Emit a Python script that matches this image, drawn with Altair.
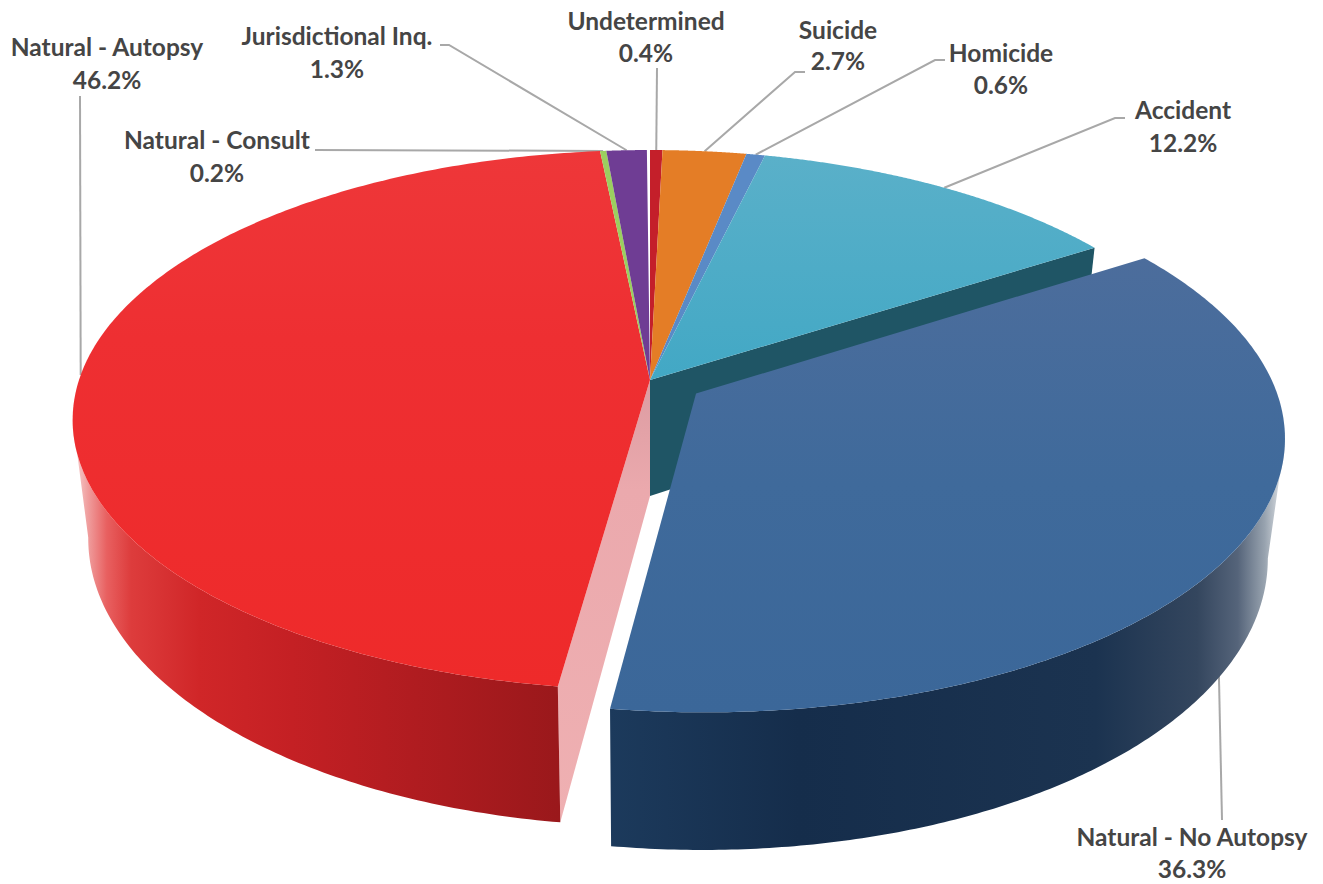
import numpy as np
import altair as alt

# Manner-of-death shares, clockwise from twelve o'clock
categories = ["Undetermined", "Suicide", "Homicide", "Accident", "Natural - No Autopsy",
              "Natural - Autopsy", "Natural - Consult", "Jurisdictional Inq."]
shares = [0.4, 2.7, 0.6, 12.2, 36.3, 46.2, 0.2, 1.3]
top_colors = ["#c41f2a", "#e47d26", "#5a8ac6", None, None, None, "#9bcf5f", "#6f3d94"]

W, H = 1323, 884

# Perspective model of the pie: unit disc mapped to screen space
CX, CY, RX, RY, PERSP, DEPTH = 650.0, 380.0, 571.0, 264.0, 0.148, 116.0
FLOOR_SHRINK = 0.027  # the underside sits further from the viewer, so it reads narrower
EXPLODED = "Natural - No Autopsy"
EXPLODE_BY = 0.095
EXPLODED_RADIUS = 1.01


def project(u, v, h=0.0):
    d = 1 + PERSP * v
    return CX + RX * u / d * (1 - FLOOR_SHRINK * h), CY + (-RY * v + DEPTH * h) / d


edges = 2 * np.pi * np.concatenate([[0], np.cumsum(shares)]) / 100
slices = {c: (edges[i], edges[i + 1]) for i, c in enumerate(categories)}


def offset(name):
    if name != EXPLODED:
        return 0.0, 0.0
    mid = sum(slices[name]) / 2
    return EXPLODE_BY * np.sin(mid), EXPLODE_BY * np.cos(mid)


def radius(name):
    return EXPLODED_RADIUS if name == EXPLODED else 1.0


def rim(name, h=0.0, n=240):
    a0, a1 = slices[name]
    ou, ov = offset(name)
    t = np.linspace(a0, a1, n)
    r = radius(name)
    xs, ys = project(ou + r * np.sin(t), ov + r * np.cos(t), h)
    return list(zip(xs.tolist(), ys.tolist()))


def apex(name, h=0.0):
    ou, ov = offset(name)
    x, y = project(ou, ov, h)
    return (float(x), float(y))


def polygon(points):
    ring = [[float(x), float(y)] for x, y in points]
    ring.append(ring[0])
    return {"type": "Feature", "properties": {}, "geometry": {"type": "Polygon", "coordinates": [ring]}}


def gradient(stops, horizontal=True):
    return alt.LinearGradient(
        gradient="linear",
        stops=[alt.GradientStop(offset=o, color=c) for o, c in stops],
        x1=0, y1=0, x2=1 if horizontal else 0, y2=0 if horizontal else 1,
    )


def shape(points, fill):
    return alt.Chart(alt.Data(values=[polygon(points)])).mark_geoshape(
        fill=fill, strokeWidth=0
    ).project(type="identity", scale=1, translate=[0, 0])


# Label centres and leader elbows, in canvas pixels
label_x = [646, 838, 1001, 1183, 1192, 107, 217, 337]
label_y = [[23, 55], [32, 63], [55, 87], [112, 145], [839, 871], [49, 82], [142, 175], [38, 71]]
elbows = [
    [(657, 68)],
    [(805, 72), (795, 72)],
    [(945, 60), (935, 60)],
    [(1125, 118), (1115, 118)],
    [(1222, 820)],
    [(80, 96)],
    [(315, 150)],
    [(440, 45), (449, 45)],
]
leader_depth = {EXPLODED: 0.6}

x_scale = alt.Scale(domain=[0, W], range=[0, W])
y_scale = alt.Scale(domain=[0, H], range=[0, H])

leader_rows = []
for name, path in zip(categories, elbows):
    mid = sum(slices[name]) / 2
    ou, ov = offset(name)
    ex, ey = project(ou + np.sin(mid), ov + np.cos(mid), leader_depth.get(name, 0.0))
    pts = list(path) + [(float(ex), float(ey))]
    for i, (px, py) in enumerate(pts):
        leader_rows.append({"name": name, "i": i, "px": px, "py": py})

leaders = alt.Chart(alt.Data(values=leader_rows)).mark_line(color="#a8a8a8", strokeWidth=2).encode(
    x=alt.X("px:Q", scale=x_scale, axis=None),
    y=alt.Y("py:Q", scale=y_scale, axis=None),
    detail="name:N",
    order="i:Q",
)

# Leaders go underneath so that they end at the pie's silhouette
layers = [leaders]

# Cut faces seen through the gap
acc_rim = rim("Accident")
layers.append(shape([apex("Accident"), acc_rim[-1],
                     rim("Accident", 1)[-1], apex("Accident", 1)], "#1f5565"))

auto_rim = rim("Natural - Autopsy")
auto_low = rim("Natural - Autopsy", 1)
layers.append(shape([apex("Natural - Autopsy"), auto_rim[0], auto_low[0], apex("Natural - Autopsy", 1)],
                    gradient([(0, "#dc9ca2"), (0.25, "#eba9ad"), (1, "#efb0b2")], horizontal=False)))

# Outer walls
left_i = int(np.argmin([p[0] for p in auto_rim]))
layers.append(shape(auto_rim[:left_i + 1] + auto_low[:left_i + 1][::-1],
                    gradient([(0, "#f8d8d8"), (0.03, "#f0a0a0"), (0.07, "#e86060"), (0.12, "#dd3c3c"),
                              (0.26, "#d02628"), (0.45, "#c42024"), (0.7, "#b01c20"), (1, "#9a181b")])))

blue_rim = rim(EXPLODED)
blue_low = rim(EXPLODED, 1)
right_i = int(np.argmax([p[0] for p in blue_rim]))
layers.append(shape(blue_rim[right_i:] + blue_low[right_i:][::-1],
                    gradient([(0, "#1c3a5c"), (0.28, "#152d4b"), (0.72, "#1b3350"), (0.87, "#34465e"),
                              (0.93, "#55647a"), (0.97, "#98a3af"), (1, "#e6e9ec")])))

# Top faces
top_fills = {
    "Accident": gradient([(0, "#5ab0c9"), (1, "#42a8c5")], horizontal=False),
    EXPLODED: gradient([(0, "#4c6d9c"), (0.5, "#3f6a9b"), (1, "#3b6799")], horizontal=False),
    "Natural - Autopsy": gradient([(0, "#ee3739"), (0.35, "#ee2f32"), (1, "#ee2a2a")], horizontal=False),
}
for name, color in zip(categories, top_colors):
    layers.append(shape([apex(name)] + rim(name), color or top_fills[name]))

text_rows = []
for name, share, lx, ly in zip(categories, shares, label_x, label_y):
    text_rows.append({"t": name, "lx": lx, "ly": ly[0]})
    text_rows.append({"t": f"{share}%", "lx": lx, "ly": ly[1]})

labels = alt.Chart(alt.Data(values=text_rows)).mark_text(
    font="Lato", fontWeight="bold", fontSize=24.5, color="#454545", align="center", baseline="middle"
).encode(
    x=alt.X("lx:Q", scale=x_scale, axis=None),
    y=alt.Y("ly:Q", scale=y_scale, axis=None),
    text="t:N",
)

chart = alt.layer(*layers, labels).resolve_scale(x="shared", y="shared").properties(
    width=W, height=H, padding=0, autosize=alt.AutoSizeParams(type="none"),
    background="white",
).configure_view(stroke=None)

chart.save("out.html", embed_options={"renderer": "svg", "actions": False})
